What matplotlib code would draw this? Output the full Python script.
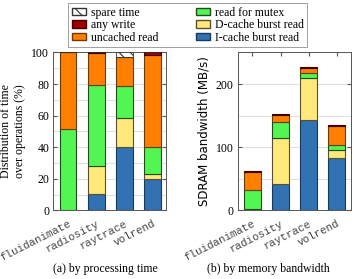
import matplotlib
matplotlib.use("Agg")
import matplotlib.pyplot as plt
import numpy as np
from matplotlib.patches import Patch

categories = ["fluidanimate", "radiosity", "raytrace", "volrend"]

# left: distribution of time (%)
t_icache = [0.5, 10.5, 40.1, 19.8]
t_dcache = [0.0, 17.8, 18.5, 3.0]
t_mutex = [51.2, 51.4, 19.9, 17.5]
t_uncached = [48.3, 19.7, 18.5, 58.4]
t_write = [0.0, 0.6, 0.3, 1.3]
t_spare = [0.0, 0.0, 2.7, 0.0]

# right: SDRAM bandwidth (MB/s)
b_icache = [2, 42, 143, 83]
b_dcache = [0, 73, 67, 12]
b_mutex = [31, 25, 8, 8]
b_uncached = [28, 11, 7, 30]
b_write = [1, 2, 2, 2]

colors = {
    "I": ("#3272b3", "#1a3a5c"),
    "D": ("#ffe97a", "#5a5030"),
    "M": ("#52f552", "#1d4d1d"),
    "U": ("#ff8000", "#6b3a08"),
    "W": ("#a00000", "#400000"),
}

plt.rcParams['font.family'] = ['Liberation Serif', 'DejaVu Serif']
plt.rcParams['hatch.linewidth'] = 0.8

fig = plt.figure(figsize=(3.54, 2.79), dpi=100)
axL = fig.add_axes([0.151, 0.246, 0.319, 0.566])
axR = fig.add_axes([0.672, 0.246, 0.319, 0.566])

x = np.arange(len(categories))
w = 0.6

def stack(ax, series):
    bottom = np.zeros(len(categories))
    for vals, key in series:
        vals = np.array(vals, dtype=float)
        if key == "S":
            ax.bar(x, vals, w, bottom=bottom, color="white", edgecolor="#333333",
                   hatch="\\\\\\", linewidth=0.6, zorder=3)
        else:
            fc, ec = colors[key]
            ax.bar(x, vals, w, bottom=bottom, color=fc, edgecolor=ec,
                   linewidth=0.8, zorder=3)
        bottom += vals

stack(axL, [(t_icache, "I"), (t_dcache, "D"), (t_mutex, "M"),
            (t_uncached, "U"), (t_write, "W"), (t_spare, "S")])
stack(axR, [(b_icache, "I"), (b_dcache, "D"), (b_mutex, "M"),
            (b_uncached, "U"), (b_write, "W")])

for ax in (axL, axR):
    ax.set_xlim(-0.52, 3.5)
    ax.set_xticks(x)
    ax.set_xticklabels(categories, rotation=27, ha="right", rotation_mode="anchor",
                       family="Liberation Mono", fontsize=7.8, color="#444444")
    ax.tick_params(axis="x", direction="in", top=True, length=3, color="#555555", pad=6)
    ax.tick_params(axis="y", direction="in", right=True, length=3, color="#555555",
                   labelsize=8.5, pad=3)
    for s in ax.spines.values():
        s.set_color("#555555")
        s.set_linewidth(0.7)
    ax.set_axisbelow(True)

axL.set_ylim(0, 100)
axL.set_yticks([0, 20, 40, 60, 80, 100])
axL.set_yticks(np.arange(10, 100, 20), minor=True)
axL.tick_params(axis="y", which="minor", length=0)
axL.grid(axis="y", which="both", color="#d9d9d9", linewidth=0.6)
axL.set_ylabel("Distribution of time\nover operations (%)", fontsize=8.5, labelpad=4)

axR.set_ylim(0, 250)
axR.set_yticks([0, 100, 200])
axR.set_yticks([50, 150], minor=True)
axR.tick_params(axis="y", which="minor", length=0)
axR.grid(axis="y", which="both", color="#d9d9d9", linewidth=0.6)
axR.set_ylabel("SDRAM bandwidth (MB/s)", fontsize=8.5, family="DejaVu Sans", labelpad=4)

handles = [
    Patch(facecolor="white", edgecolor="#333333", hatch="\\\\\\", label="spare time"),
    Patch(facecolor=colors["W"][0], edgecolor=colors["W"][1], label="any write"),
    Patch(facecolor=colors["U"][0], edgecolor=colors["U"][1], label="uncached read"),
    Patch(facecolor=colors["M"][0], edgecolor=colors["M"][1], label="read for mutex"),
    Patch(facecolor=colors["D"][0], edgecolor=colors["D"][1], label="D-cache burst read"),
    Patch(facecolor=colors["I"][0], edgecolor=colors["I"][1], label="I-cache burst read"),
]
leg = fig.legend(handles=handles, ncol=2, loc="upper center", bbox_to_anchor=(0.53, 0.989),
                 borderaxespad=0,
                 fontsize=8.5, frameon=True, fancybox=False, edgecolor="#888888",
                 handlelength=1.2, handleheight=0.6, handletextpad=0.4,
                 labelspacing=0.05, columnspacing=3.2, borderpad=0.3)
leg.get_frame().set_linewidth(0.7)

fig.text(0.297, 0.035, "(a) by processing time", ha="center", va="center", fontsize=8.5)
fig.text(0.757, 0.035, "(b) by memory bandwidth", ha="center", va="center", fontsize=8.5)

fig.savefig("out.png", dpi=100)
